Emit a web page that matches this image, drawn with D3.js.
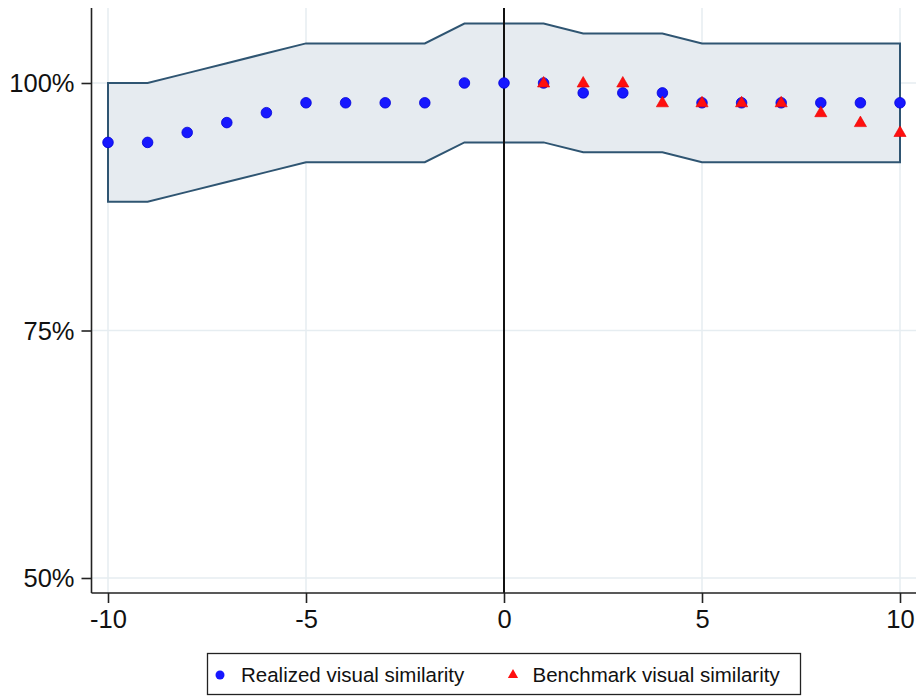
<!DOCTYPE html>
<html><head><meta charset="utf-8">
<script src="https://cdn.jsdelivr.net/npm/d3@7"></script>
<style>body{margin:0;background:#fff}svg{display:block;font-family:Arial,"Liberation Sans",sans-serif}</style>
</head><body>
<script>
const periods = [-10,-9,-8,-7,-6,-5,-4,-3,-2,-1,0,1,2,3,4,5,6,7,8,9,10];
const realized = [94,94,95,96,97,98,98,98,98,100,100,100,99,99,99,98,98,98,98,98,98];
const bandUpper = [100,100,101,102,103,104,104,104,104,106,106,106,105,105,105,104,104,104,104,104,104];
const bandLower = [88,88,89,90,91,92,92,92,92,94,94,94,93,93,93,92,92,92,92,92,92];
const benchPeriods = [1,2,3,4,5,6,7,8,9,10];
const benchmark = [100,100,100,98,98,98,98,97,96,95];
const xTicks = [-10,-5,0,5,10];
const yTicks = [50,75,100];
const legendLabels = ["Realized visual similarity","Benchmark visual similarity"];

const W=919,H=696;
const svg=d3.select("body").append("svg").attr("width",W).attr("height",H);
const x=d3.scaleLinear().domain([-10,10]).range([108,900]);
const y=d3.scaleLinear().domain([50,100]).range([578,83]);
const L=91.5,R=916,T=8,B=593;

// gridlines
const g=svg.append("g");
g.selectAll(".vg").data(xTicks.filter(d=>d!==0)).join("line")
 .attr("x1",d=>x(d)).attr("x2",d=>x(d)).attr("y1",T).attr("y2",B)
 .attr("stroke","#e6edf1").attr("stroke-width",1.5);
g.selectAll(".hg").data(yTicks).join("line")
 .attr("x1",L).attr("x2",R).attr("y1",d=>y(d)).attr("y2",d=>y(d))
 .attr("stroke","#e6edf1").attr("stroke-width",1.5);

// band
const bandData=periods.map((p,i)=>({p,u:bandUpper[i],l:bandLower[i]}));
const area=d3.area().x(d=>x(d.p)).y0(d=>y(d.l)).y1(d=>y(d.u));
svg.append("path").attr("d",area(bandData)+"Z")
 .attr("fill","#e6ebf0").attr("stroke","#2f5572").attr("stroke-width",2).attr("stroke-linejoin","miter");

// zero line
svg.append("line").attr("x1",x(0)).attr("x2",x(0)).attr("y1",T).attr("y2",B)
 .attr("stroke","#111").attr("stroke-width",2);

// realized points
svg.selectAll(".rp").data(periods.map((p,i)=>({p,v:realized[i]}))).join("circle")
 .attr("cx",d=>x(d.p)).attr("cy",d=>y(d.v)).attr("r",5.3)
 .attr("fill","#1717ff").attr("stroke","#0000d8").attr("stroke-width",0.8);

// benchmark triangles
const tri=d3.symbol().type(d3.symbolTriangle).size(64);
svg.selectAll(".bp").data(benchPeriods.map((p,i)=>({p,v:benchmark[i]}))).join("path")
 .attr("d",tri).attr("transform",d=>`translate(${x(d.p)},${y(d.v)+0.5})`)
 .attr("fill","#ff0f0f").attr("stroke","#e80000").attr("stroke-width",0.6);

const fontFam="Arial,'Liberation Sans',sans-serif";
// axes
const xa=svg.append("g").attr("transform",`translate(0,${B})`)
 .call(d3.axisBottom(x).tickValues(xTicks).tickFormat(d=>String(d)).tickSize(10).tickPadding(7).tickSizeOuter(0));
xa.select(".domain").remove();
xa.append("line").attr("x1",L).attr("x2",R).attr("stroke","#222").attr("stroke-width",1.6);
xa.selectAll(".tick line").attr("stroke","#222").attr("stroke-width",1.6);
xa.selectAll("text").attr("fill","#111").style("font-size","25.5px").style("font-family",fontFam);

const ya=svg.append("g").attr("transform",`translate(${L},0)`)
 .call(d3.axisLeft(y).tickValues(yTicks).tickFormat(d=>d+"%").tickSize(10).tickPadding(7).tickSizeOuter(0));
ya.select(".domain").remove();
ya.append("line").attr("y1",T).attr("y2",B).attr("stroke","#222").attr("stroke-width",1.6);
ya.selectAll(".tick line").attr("stroke","#222").attr("stroke-width",1.6);
ya.selectAll("text").attr("fill","#111").style("font-size","25.5px").style("font-family",fontFam).attr("dy","0.35em");

// legend
const lg=svg.append("g");
lg.append("rect").attr("x",207.5).attr("y",653.5).attr("width",593).attr("height",41)
 .attr("fill","#fff").attr("stroke","#222").attr("stroke-width",1.3);
lg.append("circle").attr("cx",220).attr("cy",675).attr("r",4.5).attr("fill","#1717ff");
lg.append("path").attr("d",d3.symbol().type(d3.symbolTriangle).size(45)).attr("transform","translate(513,675)").attr("fill","#ff0f0f");
lg.append("text").attr("x",241).attr("y",682).text(legendLabels[0]).style("font-size","20.5px").attr("fill","#111");
lg.append("text").attr("x",532.5).attr("y",682).text(legendLabels[1]).style("font-size","20.5px").attr("fill","#111");
</script>
</body></html>
